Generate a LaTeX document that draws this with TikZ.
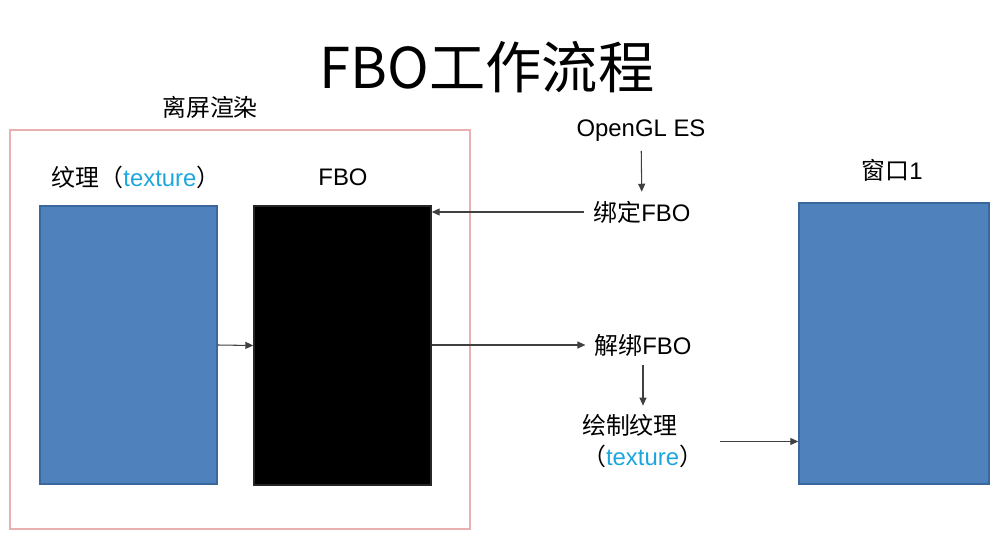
\documentclass[tikz,border=0pt]{standalone}
\usepackage{fontspec}
\setmainfont{Liberation Sans}
\newfontfamily\cjk{Noto Sans CJK SC}
\usetikzlibrary{arrows.meta,positioning}
\definecolor{winblue}{HTML}{4F81BD}
\definecolor{edgeblue}{HTML}{3A679C}
\definecolor{offred}{HTML}{E8B0B0}
\definecolor{texcyan}{HTML}{1DA6DE}
\definecolor{arrowgray}{HTML}{404040}
\newcommand{\zh}[1]{{\cjk #1}}
\tikzset{
  buffer/.style={draw=edgeblue,fill=winblue,line width=0.8pt,inner sep=0pt},
  fbobuf/.style={draw=black!85,fill=black,line width=0.8pt,inner sep=0pt},
  offframe/.style={draw=offred,line width=0.6pt,inner sep=0pt},
  caption/.style={font=\fontsize{13.6}{17.6}\selectfont,inner sep=5pt},
  arrow/.style={-{Triangle[length=1.6mm,width=1.4mm]},line width=0.6pt,draw=arrowgray}
}

\begin{document}
\begin{tikzpicture}[x=0.2mm,y=-0.2mm]
\useasboundingbox (0,0) rectangle (1000,542);
\node[font=\cjk\fontsize{32}{38}\selectfont] (title) at (487,67) {FBO工作流程};
\node[offframe,minimum width=92mm,minimum height=79.8mm] (offscreen) at (240,329.5) {};
\node[caption] (offlabel) at (210,107) {\zh{离屏渲染}};
\node[buffer,minimum width=35.4mm,minimum height=55.6mm] (tex) at (128.5,345) {};
\node[fbobuf,minimum width=35.4mm,minimum height=55.8mm] (fbo) at (342.5,345.5) {};
\node[caption] (texlabel) at (136,177) {\zh{纹理（}\textcolor{texcyan}{texture}\zh{）}};
\node[caption] (fbolabel) at (343,177) {FBO};
\node[caption] (gl) at (641,131) {OpenGL ES};
\node[caption] (bind) at (642,212) {\zh{绑定}FBO};
\node[caption] (unbind) at (643,345) {\zh{解绑}FBO};
\node[caption,align=left,anchor=west] (drawtex) at (573,441.5)
  {\zh{绘制纹理}\\\zh{（}\textcolor{texcyan}{texture}\zh{）}};
\node[caption] (winlabel) at (892,170) {\zh{窗口}1};
\node[buffer,minimum width=38mm,minimum height=56.2mm] (win) at (894,343.5) {};
\draw[arrow] (tex.east) -- (fbo.west);
\draw[arrow] (gl) -- (bind);
\draw[arrow] (bind) -- (bind -| fbo.east);
\draw[arrow] (fbo.east |- unbind) -- (unbind);
\draw[arrow] (unbind) -- (unbind |- drawtex.north);
\draw[arrow,shorten <=1.5mm] (drawtex) -- (drawtex -| win.west);
\end{tikzpicture}
\end{document}
